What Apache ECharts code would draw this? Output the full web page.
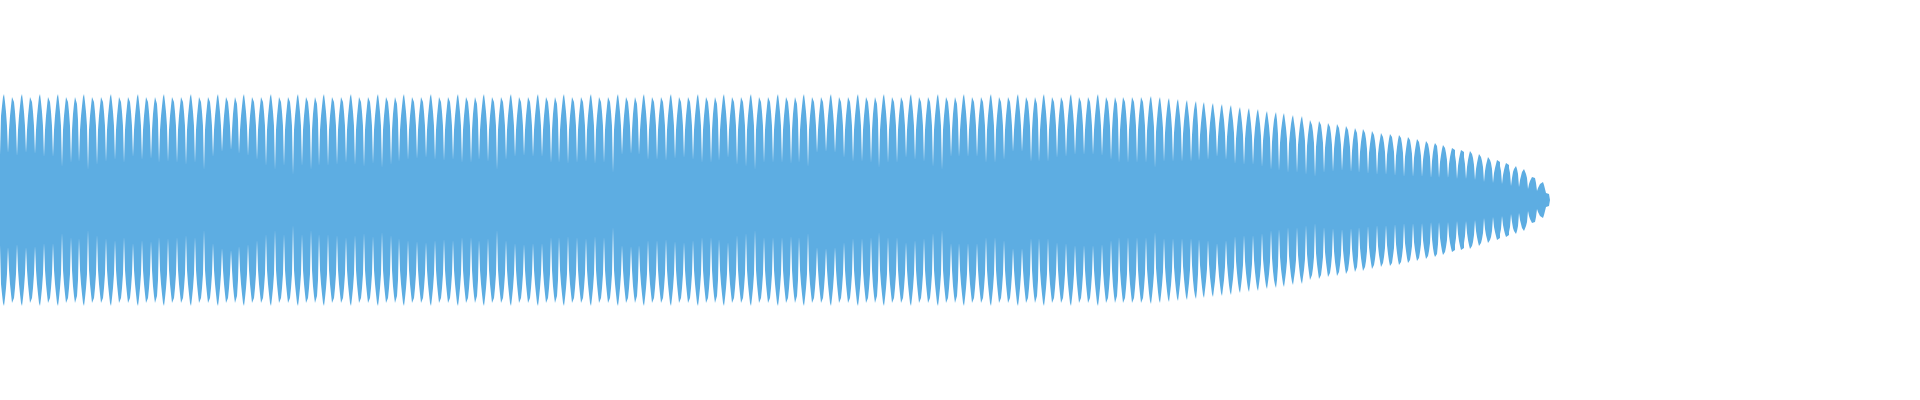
<!DOCTYPE html>
<html>
<head>
<meta charset="utf-8">
<script src="https://cdn.jsdelivr.net/npm/echarts@6/dist/echarts.min.js"></script>
<style>
html,body{margin:0;padding:0;background:#fff;}
#chart{width:1920px;height:400px;}
</style>
</head>
<body>
<div id="chart"></div>
<script>
// Waveform envelope: one value per pixel column (upper half; lower half mirrors it).
// Columns 0-399
const envelopeA = [
45,84,94,103,106,98,88,74,47, 70,84,94,103,105,98,88,74,44, 70,84,94,103,106,98,88,74,47,
70,84,94,103,105,98,88,74,46, 70,84,94,103,106,98,88,74,43, 70,84,94,103,105,98,88,74,43,
70,84,94,103,106,98,88,74,33, 70,84,94,103,105,98,88,74,37, 70,86,96,103,105,96,80,38,
70,84,94,103,106,98,88,74,30, 70,84,94,103,105,98,88,74,35, 70,84,94,103,105,98,88,74,38,
70,84,94,103,106,98,88,74,40, 70,84,94,103,104,98,88,74,37, 70,84,94,103,105,98,88,74,43,
70,84,94,103,106,98,88,74,40, 70,84,94,103,105,98,88,74,41, 70,86,96,103,105,96,80,37,
70,84,94,103,106,98,88,74,38, 70,84,94,103,105,98,88,74,37, 70,84,94,103,105,98,88,74,35,
70,84,94,103,106,98,88,74,37, 70,84,94,103,105,98,88,74,30, 70,84,94,103,104,98,88,74,43,
70,84,94,103,106,98,88,74,48, 70,84,94,103,105,98,88,74,50, 70,86,96,103,105,96,80,46,
70,84,94,103,106,98,88,74,44, 70,84,94,103,105,98,88,74,40, 70,84,94,103,105,98,88,74,34,
70,84,94,103,106,98,88,74,30, 70,84,94,103,105,98,88,74,34, 70,84,94,103,105,98,88,74,25,
70,84,94,103,106,98,88,74,34, 70,84,94,103,105,98,88,74,30, 70,86,96,103,105,96,80,34,
70,84,94,103,106,98,88,74,34, 70,84,94,103,105,98,88,74,35, 70,84,94,103,105,98,88,74,37,
70,84,94,103,106,98,88,74,35, 70,84,94,103,104,98,88,74,33, 70,84,94,103,105,98,88,74,36,
70,84,94,103,106,98,88,74,32, 70,84,94,103,105,98,88,74,35, 70,86,96,103,105,96,80,38
];
// Columns 400-799
const envelopeB = [
70,84,94,103,106,98,88,74,40, 70,84,94,103,105,98,88,74,41, 70,84,94,103,105,98,88,74,42,
70,84,94,103,106,98,88,74,40, 70,84,94,103,104,98,88,74,39, 70,84,94,103,105,98,88,74,40,
70,84,94,103,106,98,88,74,37, 70,84,94,103,105,98,88,74,37, 70,86,96,103,105,96,80,40,
70,84,94,103,106,98,88,74,38, 70,84,94,103,105,98,88,74,30, 70,84,94,103,105,98,88,74,40,
70,84,94,103,106,98,88,74,43, 70,84,94,103,104,98,88,74,44, 70,84,94,103,105,98,88,74,43,
70,84,94,103,106,98,88,74,43, 70,84,94,103,105,98,88,74,37, 70,86,96,103,105,96,80,37,
70,84,94,103,106,98,88,74,36, 70,84,94,103,105,98,88,74,37, 70,84,94,103,105,98,88,74,38,
70,84,94,103,106,98,88,74,36, 70,84,94,103,104,98,88,74,37, 70,84,94,103,105,98,88,74,27,
70,84,94,103,106,98,88,74,45, 70,84,94,103,105,98,88,74,46, 70,86,96,103,105,96,80,45,
70,84,94,103,106,98,88,74,40, 70,84,94,103,105,98,88,74,40, 70,84,94,103,105,98,88,74,39,
70,84,94,103,106,98,88,74,41, 70,84,94,103,104,98,88,74,42, 70,84,94,103,105,98,88,74,40,
70,84,94,103,106,98,88,74,37, 70,84,94,103,105,98,88,74,37, 70,86,96,103,105,96,80,39,
70,84,94,103,106,98,88,74,42, 70,84,94,103,105,98,88,74,35, 70,84,94,103,105,98,88,74,33,
70,84,94,103,106,98,88,74,30, 70,84,94,103,104,98,88,74,37, 70,84,94,103,105,98,88,74,37,
70,84,94,103,106,98,88,74,37, 70,84,94,103,105,98,88,74,36, 70,86,96,103,105,96,80,37
];
// Columns 800-1199
const envelopeC = [
70,84,94,103,106,98,88,74,33, 70,84,94,103,105,98,88,74,47, 70,84,94,103,105,98,88,74,48,
70,84,94,103,106,98,88,74,47, 70,84,94,103,104,98,88,74,42, 70,84,94,103,105,98,88,74,38,
70,84,94,103,106,98,88,74,38, 70,84,94,103,105,98,88,74,37, 70,86,96,103,105,96,80,32,
70,84,94,103,106,98,88,74,37, 70,84,94,103,105,98,88,74,37, 70,84,94,103,105,98,88,74,42,
70,84,94,103,106,98,88,74,40, 70,84,94,103,104,98,88,74,38, 70,84,94,103,105,98,88,74,33,
70,84,94,103,106,98,88,74,30, 70,84,94,103,105,98,88,74,43, 70,86,96,103,105,96,80,43,
70,84,94,103,106,98,88,74,43, 70,84,94,103,105,98,88,74,43, 70,84,94,103,105,98,88,74,37,
70,84,94,103,106,98,88,74,37, 70,84,94,103,104,98,88,74,40, 70,84,94,103,105,98,88,74,48,
70,84,94,103,106,98,88,74,48, 70,84,94,103,105,98,88,74,38, 70,86,96,103,105,96,80,38,
70,84,94,103,106,98,88,74,38, 70,84,94,103,105,98,88,74,42, 70,84,94,103,105,98,88,74,43,
70,84,94,103,106,98,88,74,45, 70,84,94,103,104,98,88,74,45, 70,84,94,103,105,98,88,74,45,
70,84,94,103,106,98,88,74,44, 70,84,94,103,105,98,88,74,40, 70,86,96,103,105,96,80,37,
70,84,94,103,105,98,88,74,37, 70,84,94,103,105,98,88,74,37, 70,84,94,103,105,98,88,74,37,
69,82,93,101,104,96,86,73,32, 68,81,92,100,103,95,85,72,38, 67,81,91,99,102,94,85,71,38,
67,80,90,98,101,93,84,71,38, 66,79,89,97,100,92,83,70,38, 65,80,90,96,99,90,74,39
];
// Columns 1200-1549 (fade-out)
const envelopeD = [
65,77,87,95,98,90,81,69,40, 64,77,86,94,97,89,81,68,43, 63,76,85,93,96,88,80,67,40,
63,75,85,92,95,87,79,67,36, 61,73,83,90,93,86,77,65,35, 61,73,82,89,92,85,76,64,35,
60,72,81,88,91,84,76,64,33, 59,70,79,86,89,82,74,62,30, 58,71,80,85,88,80,66,29,
57,69,77,84,87,80,72,61,27, 56,67,76,82,85,78,71,60,27, 55,66,75,81,84,77,70,59,25,
54,65,73,80,82,75,68,57,23, 53,64,72,79,81,75,67,57,27, 52,62,70,77,79,73,66,55,28,
51,62,69,76,78,72,65,55,29, 50,60,68,74,76,70,63,53,28, 49,60,67,72,74,67,56,27,
48,58,65,71,73,67,61,51,26, 47,56,63,69,71,65,59,50,25, 46,55,61,67,69,63,57,48,25,
45,54,61,66,68,63,56,48,24, 44,53,60,65,67,62,56,47,23, 43,51,58,63,65,60,54,46,23,
42,50,56,61,63,58,52,44,23, 40,48,54,59,61,56,51,43,22, 39,48,54,57,59,54,44,22,
38,45,51,55,57,52,47,40,22, 36,43,48,52,54,50,45,38,21, 34,41,46,50,52,48,43,36,21,
33,40,45,49,50,46,42,35,20, 31,37,42,46,47,43,39,33,18, 29,35,39,43,44,40,37,31,17,
27,32,36,40,41,38,34,29,16, 25,30,34,37,38,35,32,27,14, 22,28,31,33,34,31,26,13,
20,24,28,30,31,29,26,22,11, 16,19,21,23,24,22,20,17,9, 12,14,16,17,18,17,15,13,7,
8,6,4
];

const envelope = envelopeA.concat(envelopeB, envelopeC, envelopeD);
const upper = envelope.map((v, i) => [i, v]);
upper.push([envelope.length, 0]);
const lower = envelope.map((v, i) => [i, -v]);
lower.push([envelope.length, 0]);

const COLOR = '#5dade2';
const chart = echarts.init(document.getElementById('chart'), null, {renderer: 'canvas'});
chart.setOption({
  animation: false,
  backgroundColor: '#ffffff',
  grid: {left: 0, right: 0, top: 60, bottom: 60},
  xAxis: {type: 'value', min: 0, max: 1920, show: false},
  yAxis: {type: 'value', min: -140, max: 140, show: false},
  series: [
    {type: 'line', data: upper, step: 'end', symbol: 'none', silent: true,
     lineStyle: {width: 0, color: COLOR}, itemStyle: {color: COLOR},
     areaStyle: {color: COLOR, opacity: 1, origin: 0}},
    {type: 'line', data: lower, step: 'end', symbol: 'none', silent: true,
     lineStyle: {width: 0, color: COLOR}, itemStyle: {color: COLOR},
     areaStyle: {color: COLOR, opacity: 1, origin: 0}}
  ]
});
</script>
</body>
</html>
